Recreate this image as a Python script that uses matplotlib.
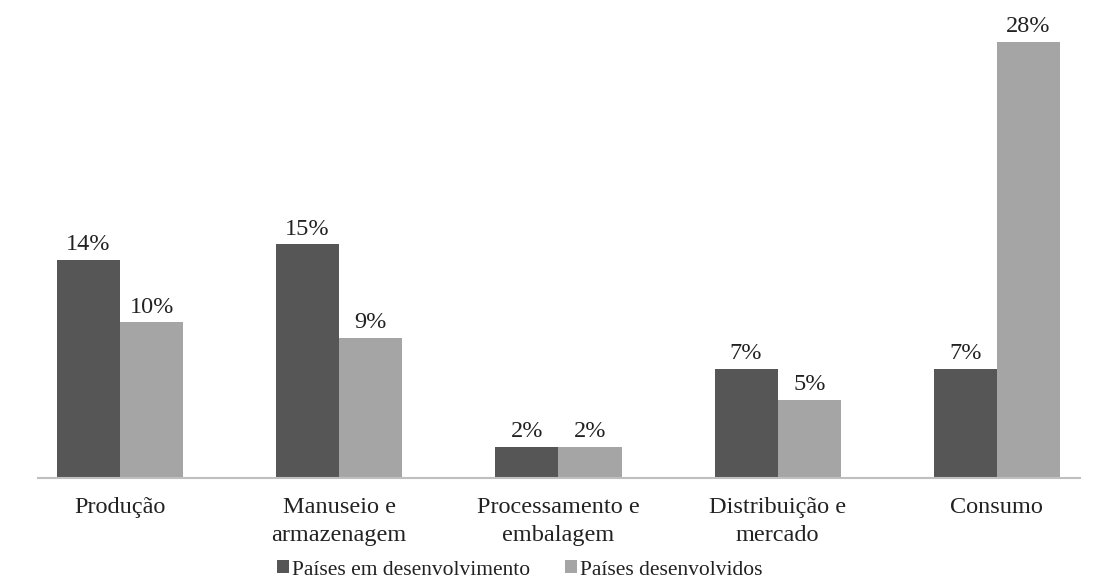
import matplotlib.pyplot as plt
import numpy as np

# Dados
categorias = ['Produção', 'Manuseio e\narmazenagem', 'Processamento e\nembalagem',
              'Distribuição e\nmercado', 'Consumo']
em_desenvolvimento = [14, 15, 2, 7, 7]
desenvolvidos = [10, 9, 2, 5, 28]
series = ['Países em desenvolvimento', 'Países desenvolvidos']

plt.rcParams['font.family'] = ['Liberation Serif', 'DejaVu Serif']

fig = plt.figure(figsize=(10.94, 5.86), dpi=100)
ax = fig.add_axes([38 / 1094, 108 / 586, 1042 / 1094, 468 / 586])

x = np.arange(len(categorias))
w = 0.288
b1 = ax.bar(x - w / 2, em_desenvolvimento, w, color='#565656', label=series[0])
b2 = ax.bar(x + w / 2, desenvolvidos, w, color='#a5a5a5', label=series[1])

for bars, vals in [(b1, em_desenvolvimento), (b2, desenvolvidos)]:
    for r, v in zip(bars, vals):
        ax.text(r.get_x() + r.get_width() / 2, v + 0.3, f'{v}%', ha='center', va='bottom',
                fontsize=17.5, color='#222222')

ax.set_xlim(-0.374, 4.379)
ax.set_ylim(0, 30.06)
ax.set_yticks([])
ax.set_xticks(x)
ax.set_xticklabels(categorias, fontsize=17.5, linespacing=1.4, color='#222222')
ax.tick_params(axis='x', length=0, pad=14)
for s in ['top', 'right', 'left']:
    ax.spines[s].set_visible(False)
ax.spines['bottom'].set_color('#bfbfbf')
ax.spines['bottom'].set_linewidth(1.5)

fig.legend(loc='lower center', bbox_to_anchor=(0.475, -0.022), ncol=2, frameon=False,
           fontsize=15.5, handlelength=0.55, handleheight=0.55, handletextpad=0.15,
           columnspacing=1.6, labelcolor='#222222')

fig.savefig('out.png', dpi=100)
